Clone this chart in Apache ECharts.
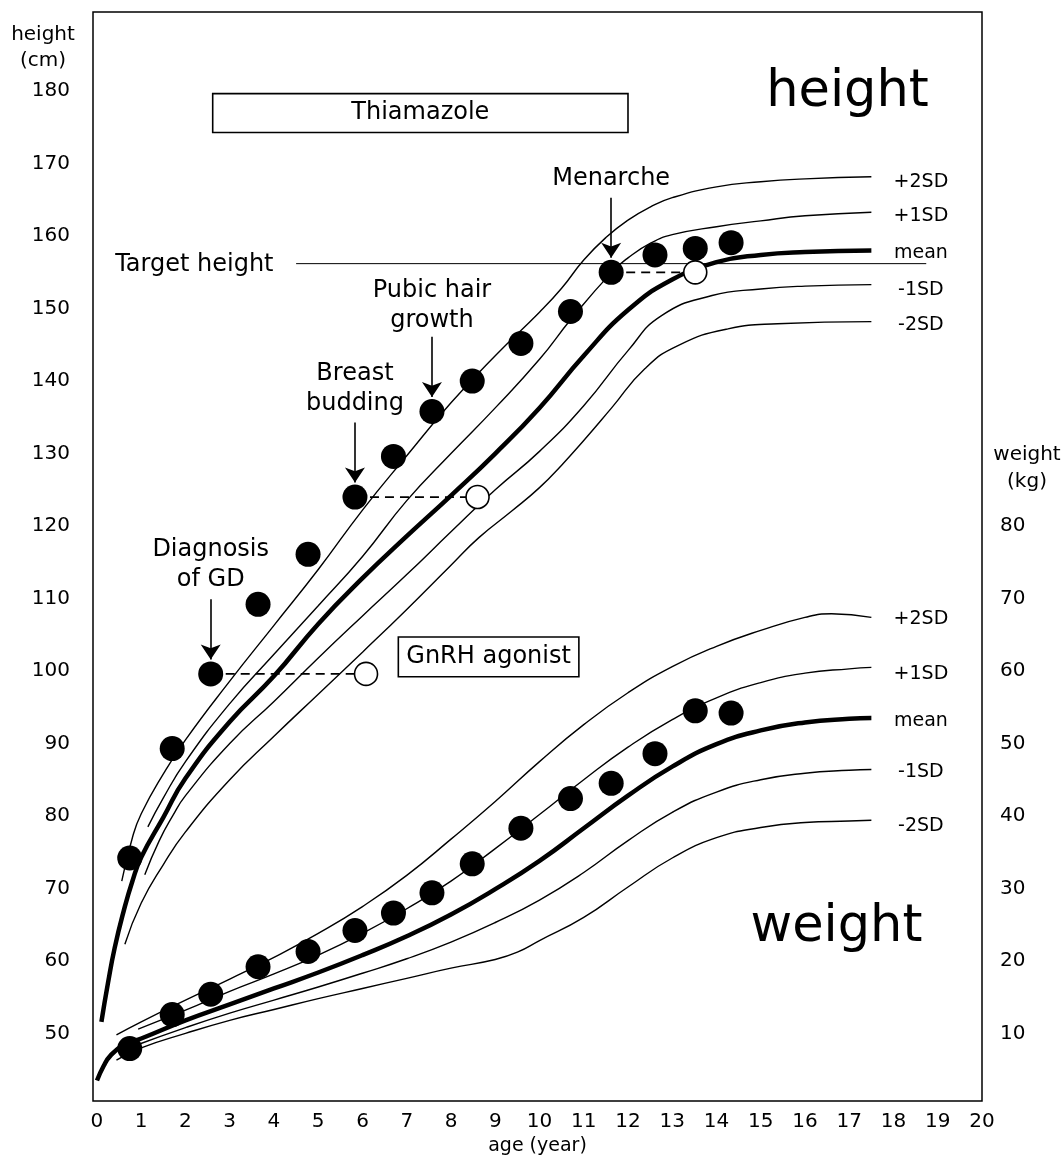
<!DOCTYPE html>
<html>
<head>
<meta charset="utf-8">
<script src="https://cdn.jsdelivr.net/npm/echarts@6/dist/echarts.min.js"></script>
<style>
  html, body { margin: 0; padding: 0; background: #fff; }
  #container { width: 1064px; height: 1161px; }
</style>
</head>
<body>
<div id="container"></div>
<script>
  // tick labels
  let ageTicks = [0, 1, 2, 3, 4, 5, 6, 7, 8, 9, 10, 11, 12, 13, 14, 15, 16, 17, 18, 19, 20];
  let heightTicks = [50, 60, 70, 80, 90, 100, 110, 120, 130, 140, 150, 160, 170, 180];
  let weightTicks = [10, 20, 30, 40, 50, 60, 70, 80];

  // reference height curves [age, cm]
  let heightP2 = [[0.56,71],[0.8,77],[1,80.3],[1.5,85.8],[2,90.5],[3,98.6],[4,106.3],[5,114],[6,122.2],[7,129.7],[8,137],[9,143.5],[10,149.5],[10.5,152.8],[11,156.7],[11.5,159.8],[12,162.2],[12.5,164],[13,165.3],[14,166.8],[15,167.5],[16,167.9],[17.5,168.2]];
  let heightP1 = [[1.15,78.5],[1.5,82.5],[2,87.5],[3,95.5],[4,102.3],[5,109],[6,115.8],[7,123.5],[8,130],[9,136.3],[10,143],[10.72,148.6],[11.63,155],[12,157],[12.5,159],[13,160.2],[14,161.3],[15,162.1],[16,162.8],[17.5,163.3]];
  let heightMean = [[0.1,51.6],[0.25,57],[0.4,61.8],[0.6,66.8],[0.8,71],[1,74.3],[1.5,79.8],[2,85.2],[3,93],[4,99.3],[5,106.5],[6,112.8],[7,118.6],[8,124.2],[9,130],[10,136.3],[11,143.5],[12,149.8],[13,154],[14,156.4],[15,157.4],[16,157.8],[17.5,158]];
  let heightM1 = [[1.08,71.9],[1.4,76.5],[1.71,80],[2,82.8],[3,90],[4,95.8],[5,101.8],[6,107.6],[7,113.3],[8,119.2],[9,125],[10,130.3],[11,136.6],[12,144.2],[12.75,149],[13.9,151.8],[15,152.7],[16,153.1],[17.5,153.3]];
  let heightM2 = [[0.63,62.3],[1,68],[1.5,73.3],[2,77.8],[3,85],[4,91],[5,96.8],[6,102.6],[7,108.5],[8,114.6],[8.63,118.4],[9.38,122.1],[10,125.3],[10.5,128.4],[11,131.8],[11.63,136.3],[12.38,141.7],[13.13,144.9],[14.26,147.2],[15.38,147.9],[17.5,148.2]];

  // reference weight curves [age, kg]
  let weightP2 = [[0.44,9.8],[1,11.6],[2,14.6],[3,17.5],[4,20.5],[5,23.8],[6,27.5],[7,31.8],[8,36.8],[9,42],[10,47.5],[11,52.6],[12,57],[13,60.6],[14,63.4],[15,65.6],[16,67.4],[16.6,67.9],[17.5,67.4]];
  let weightP1 = [[0.93,10.6],[2,13.2],[3,15.8],[4,18.2],[5,20.8],[6,23.8],[7,27.2],[8,31],[9,35.5],[10,40.2],[11,45],[12,49.5],[13,53.3],[14,56.3],[15,58.4],[16,59.7],[17,60.3],[17.5,60.5]];
  let weightMean = [[0,3.5],[0.15,5.5],[0.3,6.9],[0.6,8.4],[1,9.3],[2,11.8],[3,14],[4,16.2],[5,18.4],[6,20.8],[7,23.4],[8,26.4],[9,29.9],[10,33.8],[11,38.3],[12,42.8],[13,46.8],[14,49.9],[15,51.8],[16,52.9],[17,53.4],[17.5,53.5]];
  let weightM1 = [[0.9,8.4],[2,10.8],[3,12.8],[4,14.6],[5,16.4],[6,18.3],[7,20.3],[8,22.6],[9,25.3],[10,28.4],[11,32.2],[12,36.6],[13,40.5],[14,43.3],[15,45],[16,45.9],[17,46.3],[17.5,46.4]];
  let weightM2 = [[0.44,6.3],[1,8],[2,10],[3,11.8],[4,13.3],[5,14.8],[6,16.2],[7,17.6],[8,19],[9,20.2],[9.5,21.2],[10,22.8],[11,26],[12,30.2],[13,34.2],[14,37],[15,38.4],[16,39.1],[17,39.3],[17.5,39.4]];

  // patient
  let visitAge = [0.74, 1.70, 2.57, 3.64, 4.77, 5.83, 6.70, 7.57, 8.48, 9.58, 10.70, 11.62, 12.61, 13.52, 14.33];
  let visitHeight = [74.2, 89.3, 99.6, 109.2, 116.1, 124.0, 129.6, 135.8, 140.0, 145.2, 149.6, 155.0, 157.4, 158.3, 159.1];
  let visitWeight = [7.9, 12.6, 15.4, 19.2, 21.3, 24.2, 26.6, 29.4, 33.4, 38.3, 42.4, 44.5, 48.6, 54.5, 54.2];

  // bone age (open circles) linked to visits
  let boneVisit = [2, 5, 11];
  let boneAge = [6.08, 8.6, 13.52];

  // events (arrows) on visits
  let eventVisit = [2, 5, 7, 11];
  let eventText = ['Diagnosis\nof GD', 'Breast\nbudding', 'Pubic hair\ngrowth', 'Menarche'];
  let eventTextHeight = [114.7, 138.9, 150.4, 167.85];

  let targetHeight = 156.2;
  let targetRange = [4.5, 18.74];

  // treatment boxes [ageFrom, ageTo, cmTop, cmBottom]
  let treatNames = ['Thiamazole', 'GnRH agonist'];
  let treatBoxes = [[2.615, 12.0, 179.66, 174.3], [6.81, 10.89, 104.7, 99.2]];

  let sdNames = ['+2SD', '+1SD', 'mean', '-1SD', '-2SD'];
  let sdHeightLabelY = [167.4, 162.8, 157.6, 152.5, 147.7];
  let sdWeightLabelY = [107.1, 99.6, 93.1, 86.0, 78.6];
  let sdLabelAge = 18.62;

  let font = 'DejaVu Sans';
  let chart = echarts.init(document.getElementById('container'));

  function curve(data, yIdx, bold) {
    return {
      type: 'line', data: data, yAxisIndex: yIdx, symbol: 'none', showSymbol: false,
      smooth: 0.5, silent: true, z: 3,
      lineStyle: { color: '#000', width: bold ? 4.5 : 1.4 }
    };
  }

  let series = [
    curve(heightP2, 0), curve(heightP1, 0), curve(heightMean, 0, true), curve(heightM1, 0), curve(heightM2, 0),
    curve(weightP2, 1), curve(weightP1, 1), curve(weightMean, 1, true), curve(weightM1, 1), curve(weightM2, 1)
  ];

  // target height line
  series.push({
    type: 'line', symbol: 'none', silent: true, z: 2,
    data: [[targetRange[0], targetHeight], [targetRange[1], targetHeight]],
    lineStyle: { color: '#000', width: 1 }
  });

  // dashed links visit -> bone age
  boneVisit.forEach(function (v, i) {
    series.push({
      type: 'line', symbol: 'none', silent: true, z: 4,
      data: [[visitAge[v], visitHeight[v]], [boneAge[i], visitHeight[v]]],
      lineStyle: { color: '#000', width: 1.7, type: [9, 6] }
    });
  });

  // boxes and arrows
  series.push({
    type: 'line', data: [], silent: true,
    markArea: {
      silent: true,
      itemStyle: { color: '#fff', borderColor: '#000', borderWidth: 1.6, opacity: 1 },
      label: { show: true, position: 'inside', color: '#000', fontSize: 24, fontFamily: font },
      data: treatBoxes.map(function (b, i) {
        return [{ name: treatNames[i], coord: [b[0], b[2]] }, { coord: [b[1], b[3]] }];
      })
    },
    markLine: {
      silent: true, symbol: ['none', 'arrow'], symbolSize: 15,
      label: { show: false },
      lineStyle: { color: '#000', width: 1.6, type: 'solid', opacity: 1 },
      itemStyle: { color: '#000' },
      data: eventVisit.map(function (v) {
        return [{ coord: [visitAge[v], visitHeight[v] + 10.3] }, { coord: [visitAge[v], visitHeight[v] + 2.0] }];
      })
    }
  });

  // patient dots
  series.push({
    type: 'scatter', symbolSize: 25, z: 6, silent: true,
    itemStyle: { color: '#000', opacity: 1 },
    data: visitAge.map(function (a, i) { return [a, visitHeight[i]]; })
  });
  series.push({
    type: 'scatter', yAxisIndex: 1, symbolSize: 25, z: 6, silent: true,
    itemStyle: { color: '#000', opacity: 1 },
    data: visitAge.map(function (a, i) { return [a, visitWeight[i]]; })
  });
  series.push({
    type: 'scatter', symbolSize: 23, z: 7, silent: true,
    itemStyle: { color: '#fff', borderColor: '#000', borderWidth: 1.6, opacity: 1 },
    data: boneVisit.map(function (v, i) { return [boneAge[i], visitHeight[v]]; })
  });

  // text annotations
  let texts = [];
  eventVisit.forEach(function (v, i) {
    texts.push({ value: [visitAge[v], eventTextHeight[i]], label: { formatter: eventText[i], fontSize: 24, lineHeight: 30 } });
  });
  texts.push({ value: [2.2, 156.0], label: { formatter: 'Target height', fontSize: 24 } });
  texts.push({ value: [16.96, 179.8], label: { formatter: 'height', fontSize: 51 } });
  texts.push({ value: [16.71, 64.6], label: { formatter: 'weight', fontSize: 51 } });
  sdNames.forEach(function (n, i) {
    texts.push({ value: [sdLabelAge, sdHeightLabelY[i]], label: { formatter: n, fontSize: 19 } });
    texts.push({ value: [sdLabelAge, sdWeightLabelY[i]], label: { formatter: n, fontSize: 19 } });
  });
  series.push({
    type: 'scatter', symbolSize: 0, z: 8, silent: true,
    itemStyle: { opacity: 1 },
    label: { show: true, position: 'inside', color: '#000', opacity: 1, fontFamily: font, align: 'center', verticalAlign: 'middle' },
    data: texts
  });

  let option = {
    animation: false,
    backgroundColor: '#fff',
    textStyle: { fontFamily: font, color: '#000' },
    grid: { left: 93, right: 82, top: 12, bottom: 55, show: true, borderColor: '#000', borderWidth: 1.5 },
    graphic: [
      { type: 'text', x: 43, y: 22, style: { text: 'height\n(cm)', font: '20px "DejaVu Sans"', fill: '#000', textAlign: 'center', lineHeight: 26 } },
      { type: 'text', x: 1027, y: 441, style: { text: 'weight\n(kg)', font: '20px "DejaVu Sans"', fill: '#000', textAlign: 'center', lineHeight: 27 } }
    ],
    xAxis: {
      type: 'value', min: -0.09, max: 20,
      name: 'age (year)', nameLocation: 'middle', nameGap: 35,
      nameTextStyle: { fontSize: 19, color: '#000' },
      axisLine: { show: false }, axisTick: { show: false }, splitLine: { show: false },
      axisLabel: { customValues: ageTicks, fontSize: 20, color: '#000', margin: 11 }
    },
    yAxis: [{
      type: 'value', min: 40.66, max: 190.92,
      axisLine: { show: false }, axisTick: { show: false }, splitLine: { show: false },
      axisLabel: { customValues: heightTicks, fontSize: 20, color: '#000', margin: 23 }
    }, {
      type: 'value', position: 'right', min: 0.66, max: 150.92,
      axisLine: { show: false }, axisTick: { show: false }, splitLine: { show: false },
      axisLabel: { customValues: weightTicks, fontSize: 20, color: '#000', margin: 18 }
    }],
    series: series
  };

  chart.setOption(option);
</script>
</body>
</html>
